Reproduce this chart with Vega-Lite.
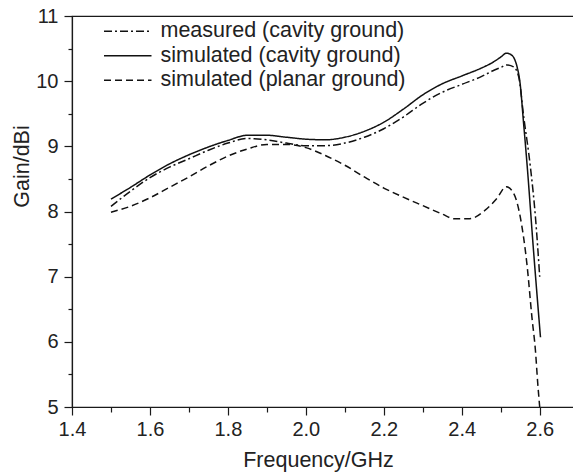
{
  "$schema": "https://vega.github.io/schema/vega-lite/v6.json",
  "width": 502,
  "height": 391,
  "autosize": {"type": "none"},
  "padding": {"left": 72, "top": 16, "right": 0, "bottom": 69},
  "background": "white",
  "config": {
    "view": {"stroke": "#1a1a1a", "strokeWidth": 1.2},
    "font": "Liberation Sans",
    "axis": {
      "domainColor": "#1a1a1a", "domainWidth": 1.2, "tickColor": "#1a1a1a", "tickWidth": 1.2,
      "labelColor": "#222", "titleColor": "#222", "grid": false,
      "labelFont": "Liberation Sans", "titleFont": "Liberation Sans",
      "labelFontSize": 20, "titleFontSize": 21.5, "titleFontWeight": "normal"
    },
    "legend": {"labelFont": "Liberation Sans"}
  },
  "data": {"values": [
    {"f": 1.50, "g": 8.08, "s": "measured (cavity ground)"},
    {"f": 1.55, "g": 8.31, "s": "measured (cavity ground)"},
    {"f": 1.60, "g": 8.52, "s": "measured (cavity ground)"},
    {"f": 1.65, "g": 8.68, "s": "measured (cavity ground)"},
    {"f": 1.70, "g": 8.81, "s": "measured (cavity ground)"},
    {"f": 1.75, "g": 8.94, "s": "measured (cavity ground)"},
    {"f": 1.80, "g": 9.05, "s": "measured (cavity ground)"},
    {"f": 1.85, "g": 9.12, "s": "measured (cavity ground)"},
    {"f": 1.90, "g": 9.10, "s": "measured (cavity ground)"},
    {"f": 1.95, "g": 9.05, "s": "measured (cavity ground)"},
    {"f": 2.00, "g": 9.01, "s": "measured (cavity ground)"},
    {"f": 2.05, "g": 9.01, "s": "measured (cavity ground)"},
    {"f": 2.10, "g": 9.05, "s": "measured (cavity ground)"},
    {"f": 2.15, "g": 9.14, "s": "measured (cavity ground)"},
    {"f": 2.20, "g": 9.27, "s": "measured (cavity ground)"},
    {"f": 2.25, "g": 9.45, "s": "measured (cavity ground)"},
    {"f": 2.30, "g": 9.66, "s": "measured (cavity ground)"},
    {"f": 2.35, "g": 9.83, "s": "measured (cavity ground)"},
    {"f": 2.40, "g": 9.95, "s": "measured (cavity ground)"},
    {"f": 2.45, "g": 10.07, "s": "measured (cavity ground)"},
    {"f": 2.48, "g": 10.16, "s": "measured (cavity ground)"},
    {"f": 2.50, "g": 10.21, "s": "measured (cavity ground)"},
    {"f": 2.516, "g": 10.25, "s": "measured (cavity ground)"},
    {"f": 2.533, "g": 10.22, "s": "measured (cavity ground)"},
    {"f": 2.546, "g": 10.07, "s": "measured (cavity ground)"},
    {"f": 2.559, "g": 9.45, "s": "measured (cavity ground)"},
    {"f": 2.576, "g": 8.69, "s": "measured (cavity ground)"},
    {"f": 2.589, "g": 7.92, "s": "measured (cavity ground)"},
    {"f": 2.600, "g": 7.0, "s": "measured (cavity ground)"},

    {"f": 1.50, "g": 8.19, "s": "simulated (cavity ground)"},
    {"f": 1.55, "g": 8.37, "s": "simulated (cavity ground)"},
    {"f": 1.60, "g": 8.56, "s": "simulated (cavity ground)"},
    {"f": 1.65, "g": 8.73, "s": "simulated (cavity ground)"},
    {"f": 1.70, "g": 8.87, "s": "simulated (cavity ground)"},
    {"f": 1.75, "g": 8.99, "s": "simulated (cavity ground)"},
    {"f": 1.80, "g": 9.09, "s": "simulated (cavity ground)"},
    {"f": 1.85, "g": 9.17, "s": "simulated (cavity ground)"},
    {"f": 1.90, "g": 9.17, "s": "simulated (cavity ground)"},
    {"f": 1.95, "g": 9.14, "s": "simulated (cavity ground)"},
    {"f": 2.00, "g": 9.11, "s": "simulated (cavity ground)"},
    {"f": 2.05, "g": 9.10, "s": "simulated (cavity ground)"},
    {"f": 2.10, "g": 9.14, "s": "simulated (cavity ground)"},
    {"f": 2.15, "g": 9.23, "s": "simulated (cavity ground)"},
    {"f": 2.20, "g": 9.37, "s": "simulated (cavity ground)"},
    {"f": 2.25, "g": 9.57, "s": "simulated (cavity ground)"},
    {"f": 2.30, "g": 9.79, "s": "simulated (cavity ground)"},
    {"f": 2.35, "g": 9.96, "s": "simulated (cavity ground)"},
    {"f": 2.40, "g": 10.08, "s": "simulated (cavity ground)"},
    {"f": 2.45, "g": 10.20, "s": "simulated (cavity ground)"},
    {"f": 2.48, "g": 10.29, "s": "simulated (cavity ground)"},
    {"f": 2.50, "g": 10.37, "s": "simulated (cavity ground)"},
    {"f": 2.515, "g": 10.43, "s": "simulated (cavity ground)"},
    {"f": 2.528, "g": 10.40, "s": "simulated (cavity ground)"},
    {"f": 2.536, "g": 10.33, "s": "simulated (cavity ground)"},
    {"f": 2.542, "g": 10.22, "s": "simulated (cavity ground)"},
    {"f": 2.550, "g": 9.95, "s": "simulated (cavity ground)"},
    {"f": 2.558, "g": 9.40, "s": "simulated (cavity ground)"},
    {"f": 2.568, "g": 8.69, "s": "simulated (cavity ground)"},
    {"f": 2.584, "g": 7.41, "s": "simulated (cavity ground)"},
    {"f": 2.602, "g": 6.07, "s": "simulated (cavity ground)"},

    {"f": 1.50, "g": 7.99, "s": "simulated (planar ground)"},
    {"f": 1.55, "g": 8.08, "s": "simulated (planar ground)"},
    {"f": 1.60, "g": 8.21, "s": "simulated (planar ground)"},
    {"f": 1.65, "g": 8.37, "s": "simulated (planar ground)"},
    {"f": 1.70, "g": 8.53, "s": "simulated (planar ground)"},
    {"f": 1.75, "g": 8.70, "s": "simulated (planar ground)"},
    {"f": 1.80, "g": 8.85, "s": "simulated (planar ground)"},
    {"f": 1.85, "g": 8.96, "s": "simulated (planar ground)"},
    {"f": 1.90, "g": 9.03, "s": "simulated (planar ground)"},
    {"f": 1.95, "g": 9.03, "s": "simulated (planar ground)"},
    {"f": 2.00, "g": 8.98, "s": "simulated (planar ground)"},
    {"f": 2.05, "g": 8.86, "s": "simulated (planar ground)"},
    {"f": 2.10, "g": 8.71, "s": "simulated (planar ground)"},
    {"f": 2.15, "g": 8.53, "s": "simulated (planar ground)"},
    {"f": 2.20, "g": 8.36, "s": "simulated (planar ground)"},
    {"f": 2.25, "g": 8.22, "s": "simulated (planar ground)"},
    {"f": 2.30, "g": 8.09, "s": "simulated (planar ground)"},
    {"f": 2.35, "g": 7.96, "s": "simulated (planar ground)"},
    {"f": 2.38, "g": 7.89, "s": "simulated (planar ground)"},
    {"f": 2.42, "g": 7.89, "s": "simulated (planar ground)"},
    {"f": 2.46, "g": 8.02, "s": "simulated (planar ground)"},
    {"f": 2.49, "g": 8.20, "s": "simulated (planar ground)"},
    {"f": 2.514, "g": 8.38, "s": "simulated (planar ground)"},
    {"f": 2.533, "g": 8.28, "s": "simulated (planar ground)"},
    {"f": 2.550, "g": 7.92, "s": "simulated (planar ground)"},
    {"f": 2.568, "g": 7.15, "s": "simulated (planar ground)"},
    {"f": 2.580, "g": 6.38, "s": "simulated (planar ground)"},
    {"f": 2.589, "g": 5.87, "s": "simulated (planar ground)"},
    {"f": 2.595, "g": 5.36, "s": "simulated (planar ground)"},
    {"f": 2.600, "g": 5.0, "s": "simulated (planar ground)"}
  ]},
  "mark": {"type": "line", "interpolate": "monotone", "strokeWidth": 1.5, "color": "#111", "clip": true},
  "encoding": {
    "x": {
      "field": "f", "type": "quantitative",
      "scale": {"domain": [1.4, 2.688], "nice": false, "zero": false},
      "axis": {
        "values": [1.4, 1.5, 1.6, 1.7, 1.8, 1.9, 2.0, 2.1, 2.2, 2.3, 2.4, 2.5, 2.6],
        "labelExpr": "round(datum.value*10)%2==0 ? format(datum.value,'.1f') : ''",
        "tickSize": {"condition": {"test": "round(datum.value*10)%2==0", "value": 8}, "value": 5},
        "labelPadding": 4,
        "labelFlush": false,
        "labelOverlap": false,
        "title": "Frequency/GHz",
        "titleX": 246, "titleY": 59, "titleBaseline": "alphabetic", "titleAnchor": "middle", "titleAlign": "center"
      }
    },
    "y": {
      "field": "g", "type": "quantitative",
      "scale": {"domain": [5, 11], "nice": false, "zero": false},
      "axis": {
        "values": [5, 5.5, 6, 6.5, 7, 7.5, 8, 8.5, 9, 9.5, 10, 10.5, 11],
        "labelExpr": "datum.value%1==0 ? format(datum.value,'d') : ''",
        "tickSize": {"condition": {"test": "datum.value%1==0", "value": 8}, "value": 4},
        "labelPadding": 6,
        "labelFlush": false,
        "labelOverlap": false,
        "title": "Gain/dBi",
        "titleX": -44, "titleY": 150, "titleAngle": -90, "titleBaseline": "alphabetic", "titleAlign": "center"
      }
    },
    "strokeDash": {
      "field": "s", "type": "nominal",
      "scale": {
        "domain": ["measured (cavity ground)", "simulated (cavity ground)", "simulated (planar ground)"],
        "range": [[8, 3, 2, 3], [1, 0], [7, 4]]
      },
      "legend": {
        "orient": "none", "legendX": 45, "legendY": 4.6, "title": null, "padding": 0,
        "symbolType": "M-4,0H4", "symbolSize": 141, "symbolStrokeWidth": 1.5,
        "symbolStrokeColor": "#111", "symbolFillColor": "transparent",
        "labelFontSize": 21.5, "labelColor": "#222", "labelOffset": 22, "rowPadding": 1.5,
        "labelLimit": 400
      }
    }
  }
}
